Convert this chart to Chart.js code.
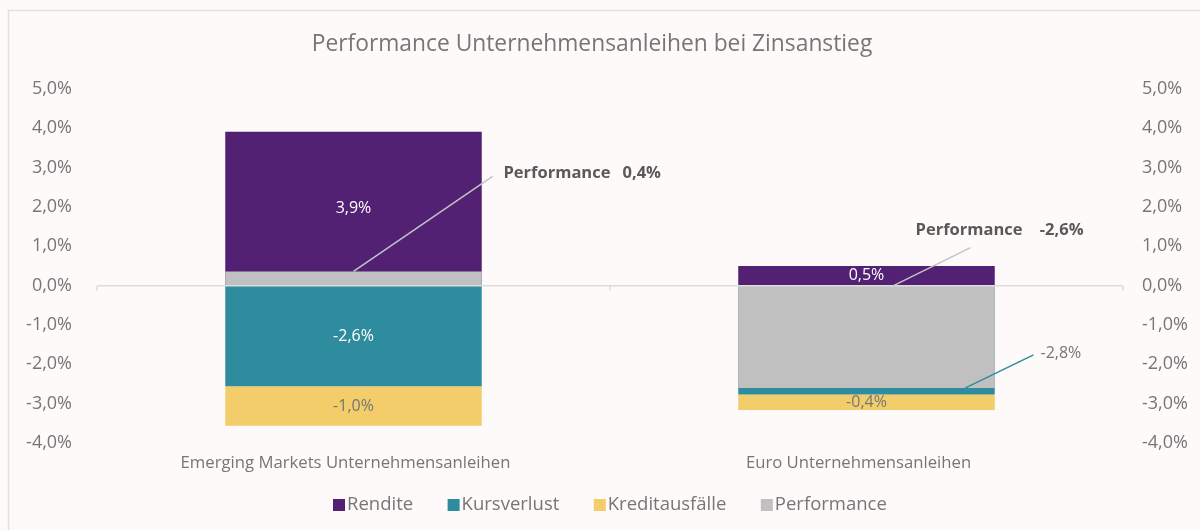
<!DOCTYPE html>
<html>
<head>
<meta charset="utf-8">
<script src="https://cdn.jsdelivr.net/npm/chart.js@4.4.1/dist/chart.umd.min.js"></script>
<style>
  html, body { margin: 0; padding: 0; background: #fdfaf9; }
  #wrap { width: 1200px; height: 530px; }
</style>
</head>
<body>
<div id="wrap"><canvas id="chart" width="1200" height="530"></canvas></div>
<script>
// values (percent)
const categories = ['Emerging Markets Unternehmensanleihen', 'Euro Unternehmensanleihen'];
const rendite = [3.91, 0.5];
const kursverlust = [-2.56, -2.77];
const kreditausfaelle = [-1.0, -0.39];
const performance = [0.36, -2.6];
const yMin = -4;
const yMax = 5;
const chartTitle = 'Performance Unternehmensanleihen bei Zinsanstieg';

const GREY_TEXT = '#767676';
const FONT = '"Open Sans"';

const fmt = v => v.toFixed(1).replace('.', ',') + '%';

// floating ranges so Performance can sit over the stacked parts
const renditeRange = rendite.map(v => [0, v]);
const kursRange = kursverlust.map(v => [0, v]);
const kreditRange = kreditausfaelle.map((v, i) => [kursverlust[i], kursverlust[i] + v]);
const perfRange = performance.map(v => [0, v]);

const frame = {
  id: 'frame',
  beforeDraw(chart) {
    const ctx = chart.ctx;
    ctx.save();
    ctx.fillStyle = '#fdfaf9';
    ctx.fillRect(0, 0, chart.width, chart.height);
    ctx.strokeStyle = '#e3e0df';
    ctx.lineWidth = 1.5;
    ctx.strokeRect(8.5, 10.5, 1400, 700);
    // title
    ctx.fillStyle = GREY_TEXT;
    ctx.font = '22.8px ' + FONT;
    ctx.textAlign = 'center';
    ctx.textBaseline = 'middle';
    ctx.fillText(chartTitle, 592, 45);
    ctx.restore();
  },
  afterDatasetsDraw(chart) {
    // zero line with small category separators
    const ctx = chart.ctx;
    const y = chart.scales.y.getPixelForValue(0);
    const area = chart.chartArea;
    ctx.save();
    ctx.strokeStyle = '#dedcdb';
    ctx.lineWidth = 1.5;
    ctx.beginPath();
    ctx.moveTo(area.left, y);
    ctx.lineTo(area.right, y);
    const n = categories.length;
    for (let i = 0; i <= n; i++) {
      const x = area.left + (area.right - area.left) * i / n;
      ctx.moveTo(x, y);
      ctx.lineTo(x, y + 5);
    }
    ctx.stroke();
    ctx.restore();
  },
  afterDraw(chart) {
    // legend row
    const ctx = chart.ctx;
    ctx.save();
    ctx.font = '18.5px ' + FONT;
    ctx.textBaseline = 'middle';
    ctx.textAlign = 'left';
    let x = 333;
    const y = 505;
    chart.data.datasets.forEach(ds => {
      ctx.fillStyle = ds.backgroundColor;
      ctx.fillRect(x, y - 6, 12, 12);
      ctx.fillStyle = GREY_TEXT;
      ctx.fillText(ds.label, x + 14, y);
      x += 14 + ctx.measureText(ds.label).width + 34.5;
    });
    ctx.restore();
  }
};

const labels = {
  id: 'labels',
  afterDatasetsDraw(chart) {
    const ctx = chart.ctx;
    const metas = [0, 1, 2, 3].map(i => chart.getDatasetMeta(i));
    ctx.save();
    ctx.textBaseline = 'middle';
    ctx.textAlign = 'center';
    ctx.font = '16px ' + FONT;

    const inside = (el, text, color) => {
      ctx.fillStyle = color;
      ctx.fillText(text, el.x, (el.y + el.base) / 2);
    };

    // Rendite
    metas[0].data.forEach((el, i) => inside(el, fmt(rendite[i]), '#ffffff'));
    // Kursverlust: first inside, second via leader line
    inside(metas[1].data[0], fmt(kursverlust[0]), '#ffffff');
    // Kreditausfälle
    metas[2].data.forEach((el, i) => inside(el, fmt(kreditausfaelle[i]), GREY_TEXT));

    const leader = (x0, y0, x1, y1, color) => {
      ctx.strokeStyle = color;
      ctx.lineWidth = 1.5;
      ctx.beginPath();
      ctx.moveTo(x0, y0);
      ctx.lineTo(x1, y1);
      ctx.stroke();
    };

    // Kursverlust Euro
    const k = metas[1].data[1];
    const pe = metas[3].data[1];
    const kx = k.x + 99, ky = pe.y;
    leader(kx, ky, kx + 68, ky - 33, '#2e8c9e');
    ctx.fillStyle = GREY_TEXT;
    ctx.textAlign = 'left';
    ctx.fillText(fmt(kursverlust[1]), kx + 75, ky - 34);

    // Performance callouts
    ctx.font = 'bold 16.5px ' + FONT;
    ctx.fillStyle = '#595959';
    const p0 = metas[3].data[0];
    leader(p0.x, p0.y, p0.x + 139, p0.y - 95, '#c4c4c4');
    ctx.textAlign = 'left';
    ctx.fillText('Performance', p0.x + 150, p0.y - 98);
    ctx.fillText(fmt(performance[0]), p0.x + 269, p0.y - 98);

    const p1 = metas[3].data[1];
    const sx = p1.x + 27, sy = p1.base;
    leader(sx, sy, sx + 77, sy - 38, '#c4c4c4');
    ctx.textAlign = 'right';
    ctx.fillText(fmt(performance[1]), sx + 190, sy - 55);
    ctx.fillText('Performance', sx + 129, sy - 55);
    ctx.restore();
  }
};

const tickStyle = { color: GREY_TEXT, font: { family: FONT, size: 18 } };

new Chart(document.getElementById('chart'), {
  type: 'bar',
  data: {
    labels: categories,
    datasets: [
      { label: 'Rendite', data: renditeRange, backgroundColor: '#522173', order: 1 },
      { label: 'Kursverlust', data: kursRange, backgroundColor: '#2e8c9e', order: 1 },
      { label: 'Kreditausfälle', data: kreditRange, backgroundColor: '#f2cd6a', order: 1 },
      { label: 'Performance', data: perfRange, backgroundColor: '#c0c0c0', order: 0 }
    ]
  },
  options: {
    responsive: false,
    animation: false,
    devicePixelRatio: 1,
    layout: { padding: { top: 89, bottom: 47, left: 0, right: 0 } },
    datasets: { bar: { grouped: false, categoryPercentage: 1, barPercentage: 0.5 } },
    scales: {
      x: {
        grid: { display: false, drawTicks: false },
        border: { display: false },
        ticks: { color: GREY_TEXT, font: { family: FONT, size: 16.7 }, padding: 10, labelOffset: -8 }
      },
      y: {
        position: 'left',
        min: yMin, max: yMax,
        grid: { display: false, drawTicks: false },
        border: { display: false },
        ticks: { ...tickStyle, stepSize: 1, padding: 25, callback: v => fmt(v) },
        afterFit: s => { s.width = 97; }
      },
      y2: {
        position: 'right',
        min: yMin, max: yMax,
        grid: { display: false, drawTicks: false },
        border: { display: false },
        ticks: { ...tickStyle, stepSize: 1, padding: 19, callback: v => fmt(v) },
        afterFit: s => { s.width = 77; }
      }
    },
    plugins: {
      title: { display: false },
      legend: { display: false },
      tooltip: { enabled: false }
    }
  },
  plugins: [frame, labels]
});
</script>
</body>
</html>
